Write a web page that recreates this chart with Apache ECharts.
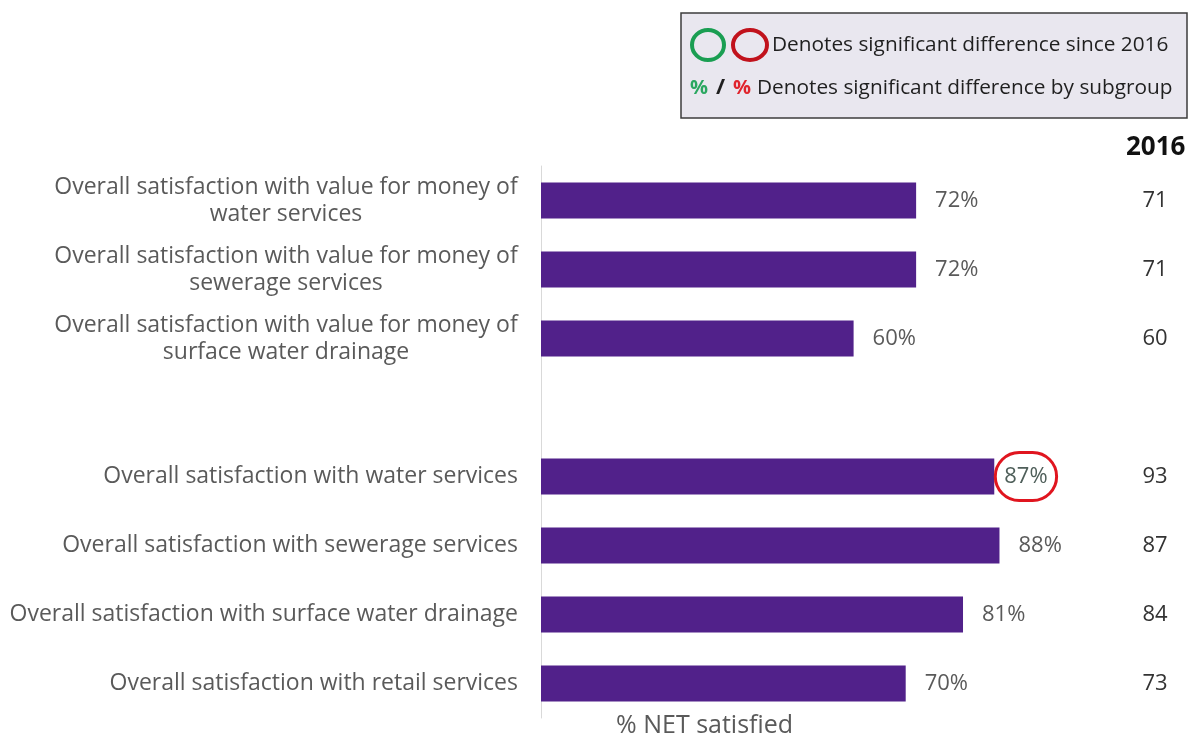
<!DOCTYPE html>
<html>
<head>
<meta charset="utf-8">
<script src="https://cdn.jsdelivr.net/npm/echarts@6/dist/echarts.min.js"></script>
<style>
  html, body { margin: 0; padding: 0; background: #fff; }
  #chart { width: 1195px; height: 737px; }
</style>
</head>
<body>
<div id="chart"></div>
<script>
// Survey items (blank entry leaves a spacer row between the two groups)
const categories = [
  'Overall satisfaction with value for money of\nwater services',
  'Overall satisfaction with value for money of\nsewerage services',
  'Overall satisfaction with value for money of\nsurface water drainage',
  '',
  'Overall satisfaction with water services',
  'Overall satisfaction with sewerage services',
  'Overall satisfaction with surface water drainage',
  'Overall satisfaction with retail services'
];
// % NET satisfied, current wave
const netSatisfied = [72, 72, 60, null, 87, 88, 81, 70];
// Comparison column for 2016
const year2016 = ['71', '71', '60', '', '93', '87', '84', '73'];
// Items flagged as significantly lower than 2016
const sigDown = [false, false, false, false, true, false, false, false];

const FONT = '"Open Sans", Lato, sans-serif';
const GREY = '#5a5a5a';
const PURPLE = '#51218a';
const CAT_SIZE = 23;

// Width of the widest line of a wrapped label, so its lines can be centred in one block
const measureCtx = document.createElement('canvas').getContext('2d');
measureCtx.font = CAT_SIZE + 'px ' + FONT;
const blockWidth = Math.ceil(Math.max(...categories
  .filter(c => c.includes('\n'))
  .flatMap(c => c.split('\n'))
  .map(s => measureCtx.measureText(s).width)));

const barData = netSatisfied.map((v, i) => {
  if (v === null) return null;
  const item = { value: v };
  if (sigDown[i]) {
    item.label = {
      borderColor: '#e0151f',
      borderWidth: 3,
      borderRadius: 26,
      padding: [14, 9, 12, 9],
      distance: 1,
      color: '#4f5f5a'
    };
  }
  return item;
});

const chart = echarts.init(document.getElementById('chart'), null, { renderer: 'canvas' });

chart.setOption({
  animation: false,
  backgroundColor: '#ffffff',
  grid: { left: 541, right: 133, top: 166, bottom: 19, containLabel: false },
  xAxis: {
    type: 'value', min: 0, max: 100,
    show: false
  },
  yAxis: [
    {
      type: 'category',
      data: categories,
      inverse: true,
      axisLine: { show: true, lineStyle: { color: '#d9d9d9', width: 1 } },
      axisTick: { show: false },
      splitLine: { show: false },
      axisLabel: {
        margin: 23,
        align: 'right',
        fontFamily: FONT,
        fontSize: CAT_SIZE,
        color: GREY,
        formatter: (val) => val.includes('\n')
          ? val.split('\n').map(s => '{c|' + s + '}').join('\n')
          : val,
        rich: {
          c: { width: blockWidth, align: 'center', fontFamily: FONT, fontSize: CAT_SIZE, color: GREY, lineHeight: 27 }
        }
      }
    },
    {
      type: 'category',
      data: year2016,
      inverse: true,
      position: 'right',
      axisLine: { show: false },
      axisTick: { show: false },
      splitLine: { show: false },
      axisLabel: {
        margin: 93,
        align: 'center',
        fontFamily: FONT,
        fontSize: 22,
        color: '#333333'
      }
    }
  ],
  title: [
    {
      text: '2016',
      left: 1121, top: 130,
      textStyle: { fontFamily: FONT, fontSize: 26, fontWeight: 'bold', color: '#111111' }
    },
    {
      text: '% NET satisfied',
      left: 611, top: 708,
      textStyle: { fontFamily: FONT, fontSize: 25, fontWeight: 'normal', color: GREY }
    }
  ],
  series: [
    {
      type: 'bar',
      data: barData,
      barWidth: 36,
      itemStyle: { color: PURPLE },
      label: {
        show: true,
        position: 'right',
        distance: 19,
        fontFamily: FONT,
        fontSize: 22,
        color: GREY,
        formatter: '{c}%'
      }
    }
  ],
  graphic: [
    {
      type: 'rect',
      shape: { x: 681, y: 13, width: 506, height: 105 },
      style: { fill: '#e9e7ef', stroke: '#3c3c3c', lineWidth: 1.5 }
    },
    {
      type: 'ellipse',
      shape: { cx: 708, cy: 45, rx: 16, ry: 15 },
      style: { fill: 'none', stroke: '#1a9e52', lineWidth: 4 }
    },
    {
      type: 'ellipse',
      shape: { cx: 750, cy: 45, rx: 17, ry: 15 },
      style: { fill: 'none', stroke: '#c1121c', lineWidth: 4 }
    },
    {
      type: 'text',
      style: { x: 772, y: 45, text: 'Denotes significant difference since 2016', fontFamily: FONT, fontSize: 20.8, fill: '#1f1f1f', verticalAlign: 'middle' }
    },
    {
      type: 'text',
      style: { x: 690, y: 88, text: '%', fontFamily: FONT, fontSize: 20, fontWeight: 'bold', fill: '#2aa760', verticalAlign: 'middle' }
    },
    {
      type: 'text',
      style: { x: 716, y: 88, text: '/', fontFamily: FONT, fontSize: 22, fontWeight: 'bold', fill: '#1f1f1f', verticalAlign: 'middle' }
    },
    {
      type: 'text',
      style: { x: 733, y: 88, text: '%', fontFamily: FONT, fontSize: 20, fontWeight: 'bold', fill: '#e0242c', verticalAlign: 'middle' }
    },
    {
      type: 'text',
      style: { x: 757, y: 88, text: 'Denotes significant difference by subgroup', fontFamily: FONT, fontSize: 20.8, fill: '#1f1f1f', verticalAlign: 'middle' }
    }
  ]
});
</script>
</body>
</html>
